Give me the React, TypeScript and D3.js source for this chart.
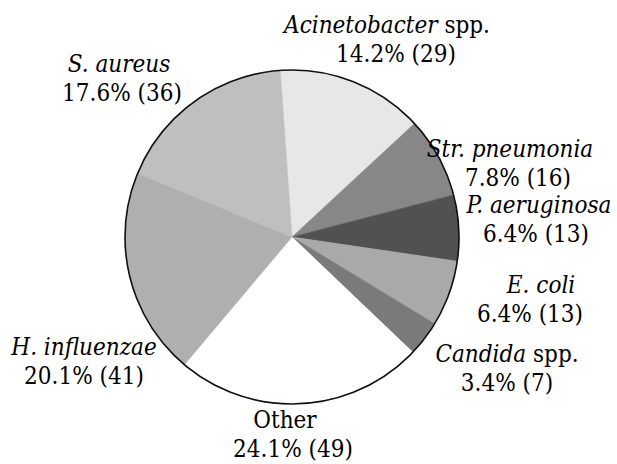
import * as d3 from "d3";
import * as React from "react";

const names = ["Acinetobacter", "Str. pneumonia", "P. aeruginosa", "E. coli", "Candida", "Other", "H. influenzae", "S. aureus"];
const suffixes = [" spp.", "", "", "", " spp.", "", "", ""];
const italic = [true, true, true, true, true, false, true, true];
const counts = [29, 16, 13, 13, 7, 49, 41, 36];
const percents = ["14.2", "7.8", "6.4", "6.4", "3.4", "24.1", "20.1", "17.6"];
const fills = ["#e7e7e7", "#878787", "#515151", "#a9a9a9", "#7a7a7a", "#ffffff", "#afafaf", "#bfbfbf"];

// label anchor points (line 1 center x, baseline y, line 2 center x)
const labelLayout: Record<string, [number, number, number]> = {
    "Acinetobacter": [387, 33, 396],
    "Str. pneumonia": [510, 157, 518],
    "P. aeruginosa": [539, 213, 536],
    "E. coli": [541, 293, 530],
    "Candida": [507, 362, 507],
    "Other": [285, 428, 293],
    "H. influenzae": [84, 355, 84],
    "S. aureus": [119, 72, 122],
};

const width = 617;
const height = 464;
const cx = 292;
const cy = 237;
const radius = 167;
const fontSize = 24;
const lineGap = 29;
const font = "DejaVu Serif";

export default function App() {
    const pie = d3.pie<number>()
        .sort(null)
        .value(d => d)
        .startAngle(-0.07)
        .endAngle(-0.07 + Math.PI * 2);
    const arcs = pie(counts);
    const arc = d3.arc<d3.PieArcDatum<number>>().innerRadius(0).outerRadius(radius);
    const textStyle = { fontFamily: font, fontSize, fontStretch: "condensed" };

    return (
        <svg width={width} height={height}
            style={{ position: "absolute", left: 0, top: 0, background: "#fff" }}>
            <g transform={`translate(${cx},${cy})`}>
                {arcs.map((a, i) => (
                    <path key={names[i]} d={arc(a)!} fill={fills[i]} stroke={fills[i]} strokeWidth={0.5} />
                ))}
                <circle r={radius} fill="none" stroke="#111" strokeWidth={1.6} />
            </g>
            {names.map((n, i) => {
                const [x1, y1, x2] = labelLayout[n];
                return (
                    <g key={n} fill="#000">
                        <text x={x1} y={y1} textAnchor="middle" style={textStyle}>
                            <tspan fontStyle={italic[i] ? "italic" : "normal"}>{n}</tspan>
                            {suffixes[i] && <tspan>{suffixes[i]}</tspan>}
                        </text>
                        <text x={x2} y={y1 + lineGap} textAnchor="middle" style={textStyle}>
                            {`${percents[i]}% (${counts[i]})`}
                        </text>
                    </g>
                );
            })}
        </svg>
    );
}
